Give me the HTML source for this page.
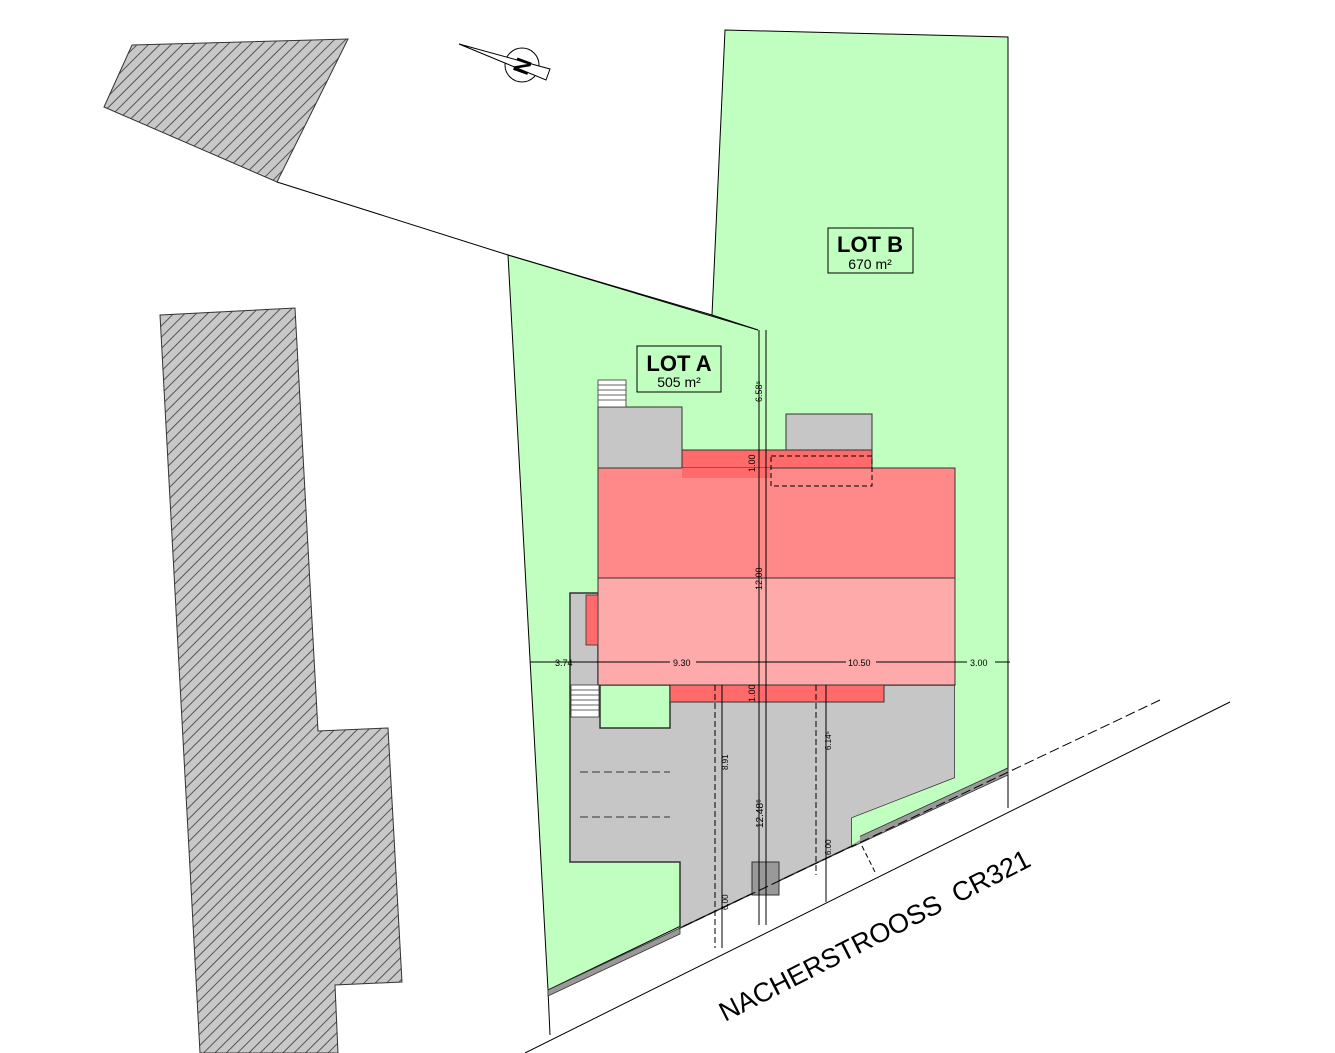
<!DOCTYPE html>
<html><head><meta charset="utf-8"><style>html,body{margin:0;padding:0;background:#fff}svg{display:block}</style></head>
<body>
<svg width="1335" height="1053" viewBox="0 0 1335 1053" xmlns="http://www.w3.org/2000/svg" font-family="Liberation Sans, sans-serif">
<defs>
<pattern id="h" patternUnits="userSpaceOnUse" width="8" height="8" patternTransform="rotate(45)">
<rect width="8" height="8" fill="#c8c8c8"/><line x1="0" y1="0" x2="0" y2="8" stroke="#555" stroke-width="2"/>
</pattern>
</defs>
<!-- hatched buildings -->
<polygon points="132,45 348,39 277,182 104,107" fill="url(#h)" stroke="#333"/>
<polygon points="160,315 295,308 318,731 388,728 402,982 335,985 338,1053 200,1053" fill="url(#h)" stroke="#333"/>
<!-- top line -->
<line x1="277" y1="182" x2="508" y2="255" stroke="#000"/>
<!-- green lots -->
<polygon points="508,255 712,315 725,30 1008,37 1008,768 548,990" fill="#c0ffc0" stroke="#000"/>
<line x1="712" y1="315" x2="758" y2="330" stroke="#000"/>
<line x1="508" y1="255" x2="758" y2="330" stroke="#000"/>
<line x1="1008" y1="768" x2="1008" y2="808" stroke="#000"/>
<line x1="548" y1="990" x2="550" y2="1035" stroke="#000"/>
<!-- gray strip along street -->
<polygon points="548,990 680,928 680,934 548,996" fill="#999" stroke="#333" stroke-width="0.8"/>
<polygon points="852,840 1008,768 1008,775 852,847" fill="#999" stroke="#333" stroke-width="0.8"/>
<!-- paving -->
<polygon points="570,593 598,593 598,685 955,685 955,778 852,818 852,846 680,928 680,862 570,862" fill="#c6c6c6" stroke="#333" stroke-width="1.5"/>
<polygon points="852,818 955,778 955,685 962,685 962,780 860,820 860,840 852,845" fill="#c0ffc0" stroke="none"/>
<rect x="600" y="685" width="70" height="43" fill="#c0ffc0" stroke="#333" stroke-width="1.5"/>
<!-- building -->
<rect x="598" y="407" width="84" height="61" fill="#c6c6c6" stroke="#333"/>
<rect x="786" y="414" width="86" height="36" fill="#c6c6c6" stroke="#333"/>
<rect x="682" y="450" width="190" height="28" fill="#ff6b6b" stroke="#333"/>
<rect x="598" y="468" width="357" height="110" fill="#ff8888" stroke="#333"/>
<rect x="598" y="578" width="357" height="107" fill="#ffaaaa" stroke="#333"/>
<rect x="682" y="468" width="88" height="10" fill="#ff6b6b"/>
<rect x="586" y="595" width="12" height="50" fill="#ff6b6b" stroke="#333" stroke-width="0.8"/>
<rect x="670" y="685" width="214" height="17" fill="#ff6b6b" stroke="#333"/>
<rect x="771" y="456" width="101" height="30" fill="none" stroke="#000" stroke-dasharray="5,3"/>
<!-- stairs -->
<g stroke="#333" stroke-width="0.8"><rect x="598" y="380" width="28" height="27" fill="#fff"/>
<line x1="598" y1="385" x2="626" y2="385"/><line x1="598" y1="390" x2="626" y2="390"/><line x1="598" y1="395" x2="626" y2="395"/><line x1="598" y1="400" x2="626" y2="400"/>
<rect x="571" y="685" width="28" height="32" fill="#fff"/>
<line x1="571" y1="690" x2="599" y2="690"/><line x1="571" y1="695" x2="599" y2="695"/><line x1="571" y1="700" x2="599" y2="700"/><line x1="571" y1="705" x2="599" y2="705"/><line x1="571" y1="710" x2="599" y2="710"/></g>
<!-- parking marks -->
<line x1="580" y1="772" x2="670" y2="772" stroke="#333" stroke-dasharray="8,4"/>
<line x1="580" y1="817" x2="670" y2="817" stroke="#333" stroke-dasharray="8,4"/>
<rect x="752" y="862" width="27" height="33" fill="#999" stroke="#333"/>
<!-- street -->
<line x1="1160" y1="700" x2="680" y2="928" stroke="#000" stroke-dasharray="10,4"/>
<line x1="1230" y1="702" x2="525" y2="1053" stroke="#000"/>
<line x1="862" y1="846" x2="875" y2="872" stroke="#000" stroke-dasharray="5,3"/>
<text x="0" y="0" font-size="27" transform="translate(725,1022) rotate(-27)">NACHERSTROOSS&#160;&#160;CR321</text>
<!-- dimension lines -->
<g stroke="#000" stroke-width="1">
<line x1="759" y1="330" x2="759" y2="925"/><line x1="766" y1="330" x2="766" y2="925"/>
<line x1="530" y1="662" x2="1010" y2="662"/>
<line x1="722" y1="685" x2="722" y2="948"/><line x1="715" y1="685" x2="715" y2="948" stroke-dasharray="6,3"/>
<line x1="826" y1="685" x2="826" y2="902"/><line x1="816" y1="685" x2="816" y2="875" stroke-dasharray="6,3"/>
</g>
<g font-size="9" fill="#000">
<rect x="549" y="657" width="26" height="10" fill="#ffaaaa" opacity="0"/>
<text x="555" y="666">3.74</text>
<rect x="670" y="656" width="26" height="12" fill="#ffaaaa"/><text x="673" y="666">9.30</text>
<rect x="846" y="656" width="30" height="12" fill="#ffaaaa"/><text x="848" y="666">10.50</text>
<rect x="967" y="656" width="28" height="12" fill="#c0ffc0"/><text x="970" y="666">3.00</text>
<text transform="translate(762,402) rotate(-90)">6.58⁵</text>
<text transform="translate(762,590) rotate(-90)">12.00</text>
<text transform="translate(755,472) rotate(-90)">1.00</text>
<text transform="translate(755,702) rotate(-90)">1.00</text>
<text transform="translate(763,828) rotate(-90)" font-size="10">12.48⁵</text>
<text transform="translate(728,770) rotate(-90)" font-size="8">8.91</text>
<text transform="translate(728,910) rotate(-90)" font-size="8">6.00</text>
<text transform="translate(831,750) rotate(-90)" font-size="8">6.14⁵</text>
<text transform="translate(831,855) rotate(-90)" font-size="8">6.00</text>
</g>
<!-- lot labels -->
<rect x="828" y="228" width="85" height="45" fill="#c0ffc0" stroke="#000"/>
<text x="870" y="252" font-size="22" font-weight="bold" text-anchor="middle">LOT B</text>
<text x="870" y="269" font-size="14" text-anchor="middle">670 m²</text>
<rect x="637" y="346" width="84" height="46" fill="#c0ffc0" stroke="#000"/>
<text x="679" y="371" font-size="22" font-weight="bold" text-anchor="middle">LOT A</text>
<text x="679" y="387" font-size="14" text-anchor="middle">505 m²</text>
<!-- north arrow -->
<g stroke="#000" fill="#fff">
<circle cx="522" cy="65" r="17" fill="none"/>
<polygon points="459,44 550,69 546,80"/>
<text x="522" y="74" font-size="22" font-weight="bold" text-anchor="middle" fill="#000" stroke="none" transform="rotate(-70,522,66)">N</text>
</g>
</svg>
</body></html>
